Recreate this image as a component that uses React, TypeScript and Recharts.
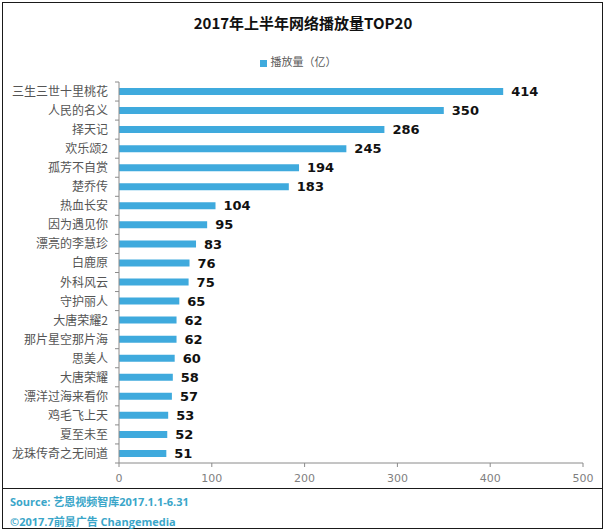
import React from 'react';
import { BarChart, Bar, XAxis, YAxis, LabelList, Legend } from 'recharts';

const titles = ['三生三世十里桃花', '人民的名义', '择天记', '欢乐颂2', '孤芳不自赏', '楚乔传', '热血长安', '因为遇见你', '漂亮的李慧珍', '白鹿原', '外科风云', '守护丽人', '大唐荣耀2', '那片星空那片海', '思美人', '大唐荣耀', '漂洋过海来看你', '鸡毛飞上天', '夏至未至', '龙珠传奇之无间道'];
const views = [414, 350, 286, 245, 194, 183, 104, 95, 83, 76, 75, 65, 62, 62, 60, 58, 57, 53, 52, 51];
const xTicks = [0, 100, 200, 300, 400, 500];
const seriesName = '播放量（亿）';
const chartTitle = '2017年上半年网络播放量TOP20';
const sourceLine = 'Source: 艺恩视频智库2017.1.1-6.31';
const copyLine = '©2017.7前景广告 Changemedia';

const data = titles.map((t, i) => ({ name: t, value: views[i] }));

const CJK = '"Noto Sans CJK SC", "Noto Sans", sans-serif';
const BAR = '#3faadd';
const AXIS = '#8a8a8a';

const CH = 490;
const TOP = 82;
const XH = 27;
const YW = 119;
const band = (CH - TOP - XH) / titles.length;

const YTick = (props: any) => {
  const { x, y, payload, index } = props;
  const ax = YW;
  return (
    <g>
      <line x1={ax - 4} x2={ax} y1={y - band / 2} y2={y - band / 2} stroke={AXIS} strokeWidth={1} />
      {index === titles.length - 1 && (
        <line x1={ax - 4} x2={ax} y1={y + band / 2} y2={y + band / 2} stroke={AXIS} strokeWidth={1} />
      )}
      <text x={x} y={y} dy={4.5} textAnchor="end" fill="#555" fontSize={12} fontFamily={CJK}>
        {payload.value}
      </text>
    </g>
  );
};

export default function App() {
  return (
    <div style={{ position: 'absolute', left: 0, top: 0, width: 606, height: 532, background: '#fff', overflow: 'hidden' }}>
      <div style={{ position: 'absolute', left: 2, top: 2, width: 599, height: 485, border: '1.5px solid #1a1a1a' }} />
      <div style={{ position: 'absolute', left: 2, top: 488, width: 599, height: 40, border: '1.5px solid #1a1a1a', borderTop: 'none' }} />
      <div style={{ position: 'absolute', left: 0, top: 12, width: 606, textAlign: 'center', fontFamily: CJK, fontWeight: 'bold', fontSize: 15, color: '#111' }}>
        {chartTitle}
      </div>
      <div style={{ position: 'absolute', left: 0, top: 0 }}>
        <BarChart
          width={606}
          height={CH}
          data={data}
          layout="vertical"
          margin={{ top: TOP, right: 23, bottom: 0, left: 0 }}
          barCategoryGap={0}
        >
          <XAxis
            type="number"
            domain={[0, 500]}
            ticks={xTicks}
            height={XH}
            tickSize={4}
            tickMargin={7}
            stroke={AXIS}
            tick={{ fill: '#7f7f7f', fontSize: 11, fontFamily: '"DejaVu Sans", Verdana, sans-serif' }}
          />
          <YAxis
            type="category"
            dataKey="name"
            width={YW}
            tickLine={false}
            tickSize={4}
            tickMargin={7}
            stroke={AXIS}
            tick={<YTick />}
            interval={0}
          />
          <Legend
            verticalAlign="middle"
            align="center"
            iconType="square"
            iconSize={7}
            wrapperStyle={{ top: 53, left: 0, width: 606, fontSize: 11, fontFamily: CJK }}
            formatter={(v: string) => <span style={{ color: '#595959' }}>{v}</span>}
          />
          <Bar dataKey="value" name={seriesName} fill={BAR} barSize={7} isAnimationActive={false}>
            <LabelList
              dataKey="value"
              position="right"
              offset={8}
              fill="#111"
              fontSize={13}
              fontWeight="bold"
              fontFamily='"DejaVu Sans", Verdana, sans-serif'
            />
          </Bar>
        </BarChart>
      </div>
      <div style={{ position: 'absolute', left: 10, top: 492, fontFamily: '"Open Sans", "Noto Sans CJK SC", sans-serif', fontWeight: 'bold', fontSize: 11, color: '#3aa6c9', lineHeight: '20px' }}>
        <div>{sourceLine}</div>
        <div>{copyLine}</div>
      </div>
    </div>
  );
}
